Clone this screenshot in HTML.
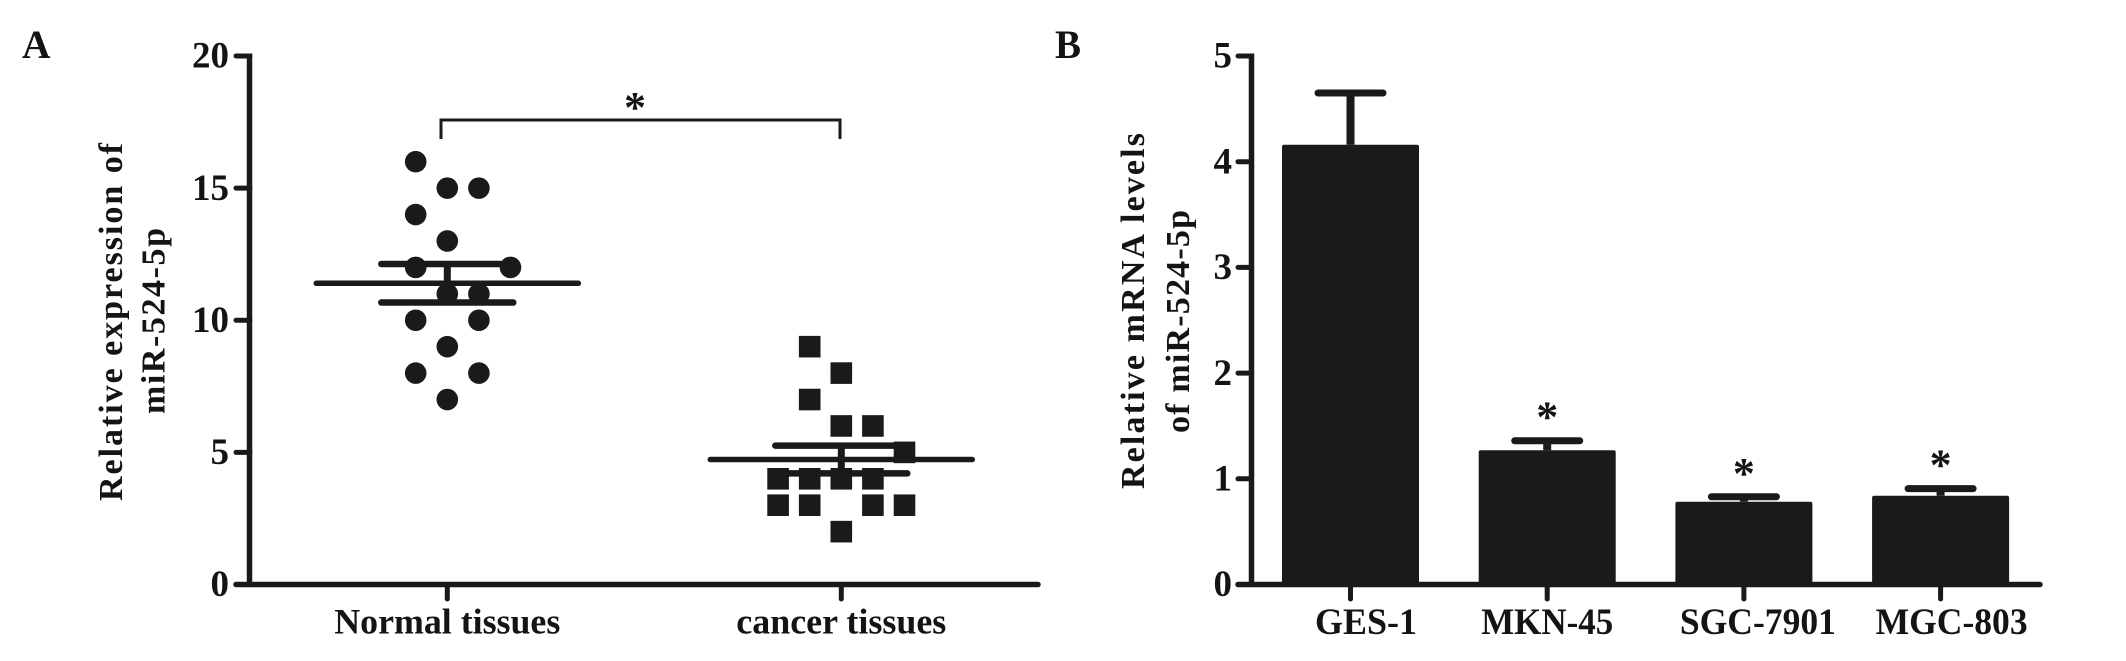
<!DOCTYPE html>
<html><head><meta charset="utf-8"><title>miR-524-5p expression</title>
<style>
html,body{margin:0;padding:0;background:#fff}
svg{display:block}
text{font-family:"Liberation Serif",serif;font-weight:bold;fill:#141414}
</style></head>
<body>
<svg id="fig" width="2126" height="661" viewBox="0 0 2126 661" xmlns="http://www.w3.org/2000/svg">
<rect width="2126" height="661" fill="#fff"/>
<text x="22" y="58" font-size="40" textLength="28.5" lengthAdjust="spacingAndGlyphs">A</text>
<text x="1055" y="58" font-size="40" textLength="26" lengthAdjust="spacingAndGlyphs">B</text>
<text transform="translate(122,501) rotate(-90)" font-size="34" textLength="358" lengthAdjust="spacing">Relative expression of</text>
<text transform="translate(164.5,414) rotate(-90)" font-size="34" textLength="186" lengthAdjust="spacing">miR-524-5p</text>
<text transform="translate(1144,489) rotate(-90)" font-size="34" textLength="356" lengthAdjust="spacing">Relative mRNA levels</text>
<text transform="translate(1189,433) rotate(-90)" font-size="34" textLength="223" lengthAdjust="spacing">of miR-524-5p</text>
<g id="panelA"></g>
<g id="panelB"></g>
</svg>
<script>
// Panel A data
const groupsA = ["Normal tissues", "cancer tissues"];
const ticksA = [0, 5, 10, 15, 20];
const normalValues = [16, 15, 15, 14, 13, 12, 12, 11, 11, 10, 10, 9, 8, 8, 7];
const normalSlots = [-1, 0, 1, -1, 0, -1, 2, 0, 1, -1, 1, 0, -1, 1, 0];
const cancerValues = [9, 8, 7, 6, 6, 5, 4, 4, 4, 4, 3, 3, 3, 3, 2];
const cancerSlots = [-1, 0, -1, 0, 1, 2, -2, -1, 0, 1, -2, -1, 1, 2, 0];
const meansA = [11.4, 4.73];
const semA = [0.73, 0.525];
// Panel B data
const groupsB = ["GES-1", "MKN-45", "SGC-7901", "MGC-803"];
const ticksB = [0, 1, 2, 3, 4, 5];
const barValues = [4.16, 1.27, 0.783, 0.84];
const barErrors = [0.49, 0.09, 0.047, 0.067];
const barStars = [false, true, true, true];

const INK = "#1a1a1a";
const NS = "http://www.w3.org/2000/svg";
const AXIS_BASE = 584.5, AXIS_TOP = 56;
const yA = v => AXIS_BASE - v * (AXIS_BASE - AXIS_TOP) / 20;
const yB = v => AXIS_BASE - v * (AXIS_BASE - AXIS_TOP) / 5;
const xGroupA = i => 447.3 + i * 394;
const xSlot = (i, s) => xGroupA(i) + s * 31.6;
const xBar = i => 1350.5 + i * 196.7;

function make(parent, tag, attrs, content) {
  const el = document.createElementNS(NS, tag);
  for (const k in attrs) el.setAttribute(k, attrs[k]);
  if (content !== undefined) el.textContent = content;
  parent.appendChild(el);
  return el;
}
function line(parent, x1, y1, x2, y2, w, cap) {
  return make(parent, "line", {x1, y1, x2, y2, stroke: INK, "stroke-width": w, "stroke-linecap": cap || "butt"});
}

const A = document.getElementById("panelA");
const B = document.getElementById("panelB");
let el;

// Panel A marks
normalValues.forEach((v, i) => {
  el = make(A, "circle", {cx: xSlot(0, normalSlots[i]), cy: yA(v), r: 10.8, fill: INK});
  
  
});
cancerValues.forEach((v, i) => {
  const s = 21.6;
  el = make(A, "rect", {x: xSlot(1, cancerSlots[i]) - s / 2, y: yA(v) - s / 2, width: s, height: s, fill: INK});
  
  
});
meansA.forEach((m, i) => {
  const cx = xGroupA(i);
  el = line(A, cx, yA(m + semA[i]), cx, yA(m - semA[i]), 7);
  
  
  el = line(A, cx - 66, yA(m + semA[i]), cx + 66, yA(m + semA[i]), 6.5, "round");
  
  
  el = line(A, cx - 66, yA(m - semA[i]), cx + 66, yA(m - semA[i]), 6.5, "round");
  
  
  el = line(A, cx - 131, yA(m), cx + 131, yA(m), 5.5, "round");
  
  
});

// Panel A axes
el = line(A, 249.5, AXIS_TOP - 2.5, 249.5, AXIS_BASE + 2, 5.5);


el = line(A, 236, AXIS_BASE, 1038, AXIS_BASE, 5.5, "round");


ticksA.forEach(t => {
  el = line(A, 236, yA(t), 250, yA(t), 5, "round");
  
  
  el = make(A, "text", {x: 229, y: yA(t) + 11.7, "font-size": 37, "text-anchor": "end"}, String(t));
  
  
});
const labelWidthsA = [226, 210];
groupsA.forEach((g, i) => {
  el = line(A, xGroupA(i), AXIS_BASE, xGroupA(i), 599, 5, "round");
  
  
  el = make(A, "text", {x: xGroupA(i), y: 633.5, "font-size": 36, "text-anchor": "middle", textLength: labelWidthsA[i], lengthAdjust: "spacingAndGlyphs"}, g);
  
  
});

// Panel A significance bracket
el = make(A, "path", {d: "M441 139V120H840V139", fill: "none", stroke: INK, "stroke-width": 3});


el = make(A, "text", {x: 635, y: 122, "font-size": 44, "text-anchor": "middle"}, "*");



// Panel B marks
barValues.forEach((v, i) => {
  const cx = xBar(i), w = 137;
  el = line(B, cx, yB(v), cx, yB(v + barErrors[i]), 8);
  
  
  el = line(B, cx - 32.5, yB(v + barErrors[i]), cx + 32.5, yB(v + barErrors[i]), 7, "round");
  
  
  el = make(B, "rect", {x: cx - w / 2, y: yB(v), width: w, height: AXIS_BASE - yB(v), rx: 2, fill: INK});
  
  
  if (barStars[i]) {
    el = make(B, "text", {x: cx, y: yB(v + barErrors[i]) - 9, "font-size": 44, "text-anchor": "middle"}, "*");
    
    
  }
});

// Panel B axes
el = line(B, 1251.5, AXIS_TOP - 2.5, 1251.5, AXIS_BASE + 2, 5.5);


el = line(B, 1238, AXIS_BASE, 2040, AXIS_BASE, 5.5, "round");


ticksB.forEach(t => {
  el = line(B, 1238, yB(t), 1251, yB(t), 5, "round");
  
  
  el = make(B, "text", {x: 1232, y: yB(t) + 11.7, "font-size": 37, "text-anchor": "end"}, String(t));
  
  
});
const labelWidthsB = [102, 132, 156, 152];
const labelCentersOffset = [15.5, 0, 14, 11];
groupsB.forEach((g, i) => {
  el = line(B, xBar(i), AXIS_BASE, xBar(i), 599, 5, "round");
  
  
  el = make(B, "text", {x: xBar(i) + labelCentersOffset[i], y: 634, "font-size": 37, "text-anchor": "middle", textLength: labelWidthsB[i], lengthAdjust: "spacingAndGlyphs"}, g);
  
  
});
</script>
</body></html>
